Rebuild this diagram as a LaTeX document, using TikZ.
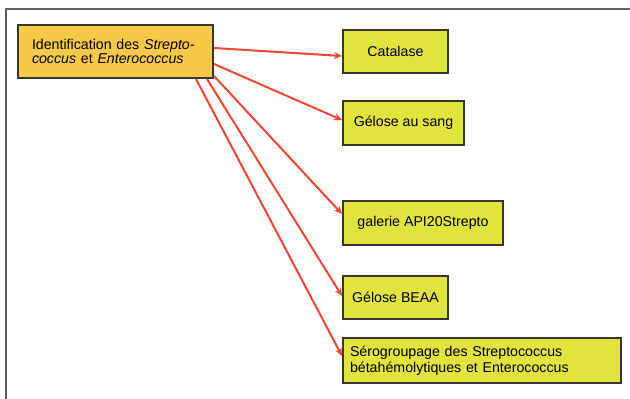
\documentclass[tikz,border=0pt]{standalone}
\usepackage{fontspec}
\setmainfont{Liberation Sans}
\usetikzlibrary{arrows.meta}
\definecolor{frameg}{RGB}{95,95,95}
\definecolor{mainfill}{RGB}{246,200,72}
\definecolor{boxfill}{RGB}{226,228,62}
\definecolor{boxline}{RGB}{55,55,45}
\definecolor{arrred}{RGB}{242,70,50}
\begin{document}
\begin{tikzpicture}[x=1pt,y=-1pt,
  every node/.style={font=\fontsize{14.2}{16}\selectfont},
  mainbox/.style={draw=boxline,line width=2pt,fill=mainfill,anchor=north west,
    inner xsep=14pt,inner ysep=0pt,text width=167pt,minimum height=53pt,align=left},
  testbox/.style={draw=boxline,line width=2pt,fill=boxfill,anchor=north west,
    inner sep=0pt,align=center},
  arr/.style={draw=arrred,line width=2pt,-{Stealth[length=8pt,width=7pt]}}]
\useasboundingbox (0,0) rectangle (630,399);
% frame
\draw[frameg,line width=2pt] (5.5,399) -- (5.5,8.5) -- (630,8.5);
% nodes
\node[mainbox] (main) at (17,24) {Identification des \textit{Strepto-}\\[-2pt]\textit{coccus} et \textit{Enterococcus}};
\node[testbox,minimum width=105pt,minimum height=43pt] (cat) at (342,29) {Catalase};
\node[testbox,minimum width=121pt,minimum height=44pt] (sang) at (342,100) {Gélose au sang};
\node[testbox,minimum width=160pt,minimum height=44pt] (api) at (342,200) {galerie API20Strepto};
\node[testbox,minimum width=105pt,minimum height=43pt] (beaa) at (342,275) {Gélose BEAA};
\node[testbox,inner xsep=7pt,text width=264pt,minimum height=45pt,align=left] (sero) at (342,337)
  {Sérogroupage des Streptococcus\\[0pt]bétahémolytiques et Enterococcus};
% connectors
\draw[arr] ([yshift=3.5pt]main.east) -- ([yshift=-4.5pt]cat.west);
\draw[arr] ([yshift=-12.5pt]main.east) -- ([yshift=3pt]sang.west);
\draw[arr] ([yshift=3pt]main.south east) -- ([yshift=9pt]api.west);
\draw[arr] ([xshift=-7pt]main.south east) -- ([yshift=1.5pt]beaa.west);
\draw[arr] ([xshift=-18pt]main.south east) -- ([yshift=4.5pt]sero.west);
\end{tikzpicture}
\end{document}
